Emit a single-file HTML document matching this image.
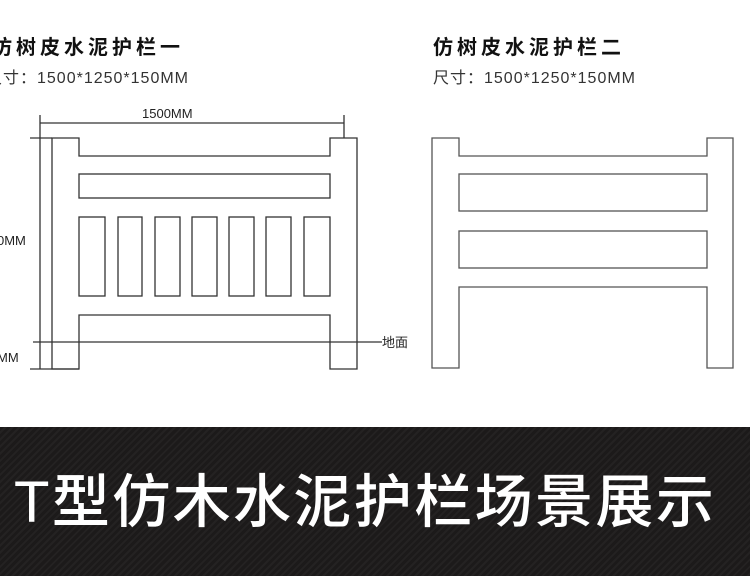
<!DOCTYPE html>
<html><head><meta charset="utf-8"><style>
body{margin:0;width:750px;height:576px;overflow:hidden;background:#fff;position:relative;font-family:"Liberation Sans","Noto Sans CJK SC",sans-serif}
.t{position:absolute;font-size:20px;font-weight:bold;letter-spacing:4px;color:#111;white-space:nowrap;line-height:20px}
.s{position:absolute;font-size:16px;letter-spacing:1px;color:#333;white-space:nowrap;line-height:16px}
.ban{position:absolute;left:0;top:427px;width:750px;height:149px;background:repeating-linear-gradient(135deg,#1c1a1a 0 3px,#242222 3px 5px)}
.bt{position:absolute;left:14px;top:470px;font-size:58px;color:#fff;font-family:"Liberation Sans","Noto Sans CJK SC",sans-serif;font-weight:500;white-space:nowrap;line-height:66px;letter-spacing:2.4px}
</style></head><body>
<div class="t" style="left:-8px;top:38px">仿树皮水泥护栏一</div>
<div class="s" style="left:-14px;top:71px">尺寸：1500*1250*150MM</div>
<div class="t" style="left:433px;top:38px">仿树皮水泥护栏二</div>
<div class="s" style="left:433px;top:71px">尺寸：1500*1250*150MM</div>
<svg width="750" height="420" style="position:absolute;left:0;top:0" fill="none" stroke="#333" stroke-width="1.3">
<line x1="40" y1="115" x2="40" y2="369"/><line x1="344" y1="115" x2="344" y2="138"/>
<line x1="40" y1="123" x2="344" y2="123"/>
<line x1="30" y1="138" x2="52" y2="138"/><line x1="30" y1="369" x2="79" y2="369"/>
<line x1="33" y1="342" x2="382" y2="342"/>
<text x="142" y="118" font-size="13" fill="#222" stroke="none" font-family="Liberation Sans">1500MM</text>
<text x="-3" y="245" font-size="13" fill="#222" stroke="none" font-family="Liberation Sans">0MM</text>
<text x="-3" y="362" font-size="13" fill="#222" stroke="none" font-family="Liberation Sans">MM</text>
<text x="382" y="347" font-size="13" fill="#222" stroke="none" font-family="Liberation Sans,Noto Sans CJK SC">地面</text>
<path d="M52 369 V138 H79 V156 H330 V138 H357 V369 H330 V315 H79 V369 Z"/>
<rect x="79" y="174" width="251" height="24"/>
<rect x="79" y="217" width="26" height="79"/><rect x="118" y="217" width="24" height="79"/><rect x="155" y="217" width="25" height="79"/><rect x="192" y="217" width="25" height="79"/><rect x="229" y="217" width="25" height="79"/><rect x="266" y="217" width="25" height="79"/><rect x="304" y="217" width="26" height="79"/>
<path d="M432 368 V138 H459 V156 H707 V138 H733 V368 H707 V287 H459 V368 Z" stroke="#555"/>
<rect x="459" y="174" width="248" height="37" stroke="#555"/>
<rect x="459" y="231" width="248" height="37" stroke="#555"/>
</svg>
<div class="ban"></div>
<div class="bt">T型仿木水泥护栏场景展示</div>
</body></html>
